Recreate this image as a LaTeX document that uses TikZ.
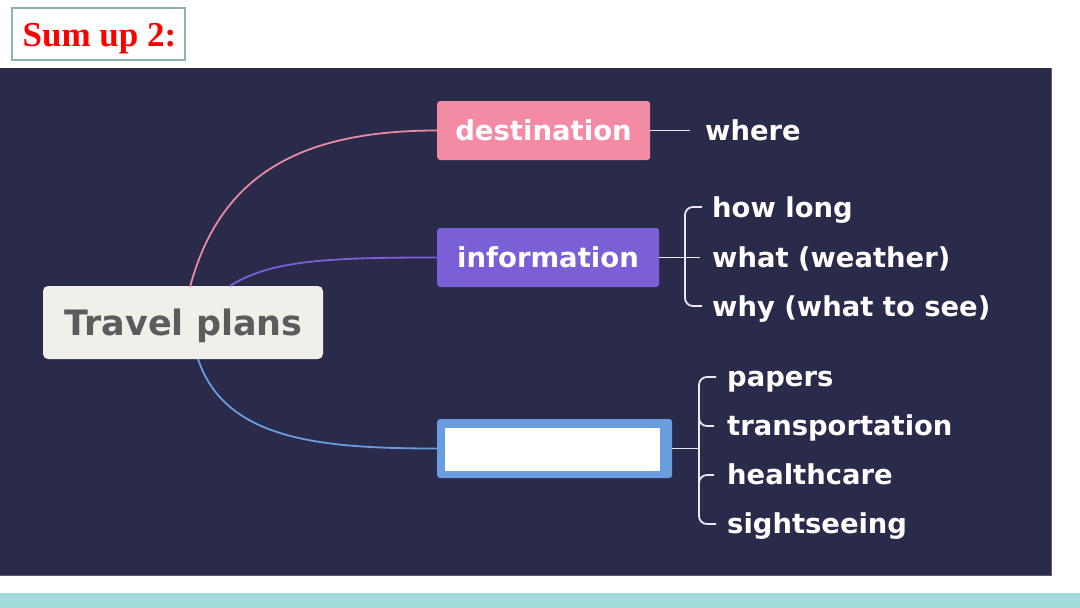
\documentclass[tikz,border=0pt]{standalone}
\usepackage{fontspec}
\setmainfont{Liberation Serif}
\newfontfamily\mapfont{DejaVu Sans}
\definecolor{panel}{HTML}{2A2B4B}
\definecolor{teal}{HTML}{A3DCDC}
\definecolor{sumframe}{HTML}{8FB3B3}
\definecolor{pinkc}{HTML}{F28BA3}
\definecolor{pinkl}{HTML}{E88AA0}
\definecolor{purc}{HTML}{7A5FD6}
\definecolor{bluec}{HTML}{6A9DE0}
\definecolor{rootfill}{HTML}{F1EFE9}
\definecolor{roottext}{HTML}{5C5C5C}
\definecolor{linec}{HTML}{E8E8EE}
\tikzset{
  branch/.style={rounded corners=3pt, minimum height=59pt, inner sep=0pt, anchor=west},
  btext/.style={anchor=base, inner sep=0pt, text=white, font=\mapfont\bfseries\fontsize{27.5}{30}\selectfont},
  item/.style={anchor=base west, inner sep=0pt, text=white, font=\mapfont\bfseries\fontsize{27.4}{30}\selectfont},
  link/.style={line width=1.8pt},
  brace/.style={draw=linec, line width=1.8pt, rounded corners=8pt}
}
\begin{document}
\begin{tikzpicture}[x=1pt,y=-1pt]
\useasboundingbox (0,0) rectangle (1080,608);
\fill[white] (0,0) rectangle (1080,608);
% panel and strip
\fill[panel] (0,68) rectangle (1051,575);
\draw[color=gray!60!panel, line width=1pt] (0,575) -- (1051,575) -- (1051,68);
\fill[teal] (0,593) rectangle (1080,608);
% title
\node[draw=sumframe, line width=2pt, minimum width=173pt, minimum height=52pt, inner sep=0pt] (titlebox) at (98.5,34) {};
\node[anchor=base, inner sep=0pt, text=red, font=\bfseries\fontsize{35}{38}\selectfont] (title) at (99.5,46) {Sum up 2:};
% root
\node[fill=rootfill, rounded corners=5pt, minimum width=280pt, minimum height=73pt, inner sep=0pt] (root) at (183,322.5) {};
\node[anchor=base, inner sep=0pt, text=roottext, font=\mapfont\bfseries\fontsize{35}{38}\selectfont] (roottxt) at (183.5,335) {Travel plans};
% branches
\node[branch, fill=pinkc, minimum width=213pt] (dest) at (437,130.5) {};
\node[btext] (desttxt) at (543.5,140) {destination};
\node[branch, fill=purc, minimum width=222pt] (info) at (437,257.5) {};
\node[btext] (infotxt) at (548,267) {information};
\node[branch, fill=bluec, minimum width=235pt] (blank) at (437,448.5) {};
\fill[white] (445,428) rectangle (660,471);
% curved links
\coordinate (r1) at (190,287);
\coordinate (r2) at (230,286);
\coordinate (r3) at (198,359);
\draw[link, pinkl] (r1) .. controls (220,175) and (300,130.5) .. (dest.west);
\draw[link, purc] (r2) .. controls (270,260) and (330,257.5) .. (info.west);
\draw[link, bluec] (r3) .. controls (225,440) and (320,448.5) .. (blank.west);
% destination -> where
\node[item] (where) at (705,140.5) {where};
\draw[link, linec] (dest.east) -- (690,130.5);
% information brace
\node[item] (i1) at (712,217) {how long};
\node[item] (i2) at (712,267) {what (weather)};
\node[item] (i3) at (712,316) {why (what to see)};
\draw[link, linec] (info.east) -- (700,257.5);
\draw[brace] (702,207) -- (685,207) -- (685,306) -- (702,306);
% blank brace
\node[item] (b1) at (727,386) {papers};
\node[item] (b2) at (727,435) {transportation};
\node[item] (b3) at (727,484) {healthcare};
\node[item] (b4) at (727,533) {sightseeing};
\draw[link, linec] (blank.east) -- (700,448.5);
\draw[brace] (716,377) -- (699,377) -- (699,524) -- (716,524);
\draw[brace] (699,412) -- (699,426) -- (714,426);
\draw[brace] (699,489) -- (699,475) -- (714,475);
\end{tikzpicture}
\end{document}
